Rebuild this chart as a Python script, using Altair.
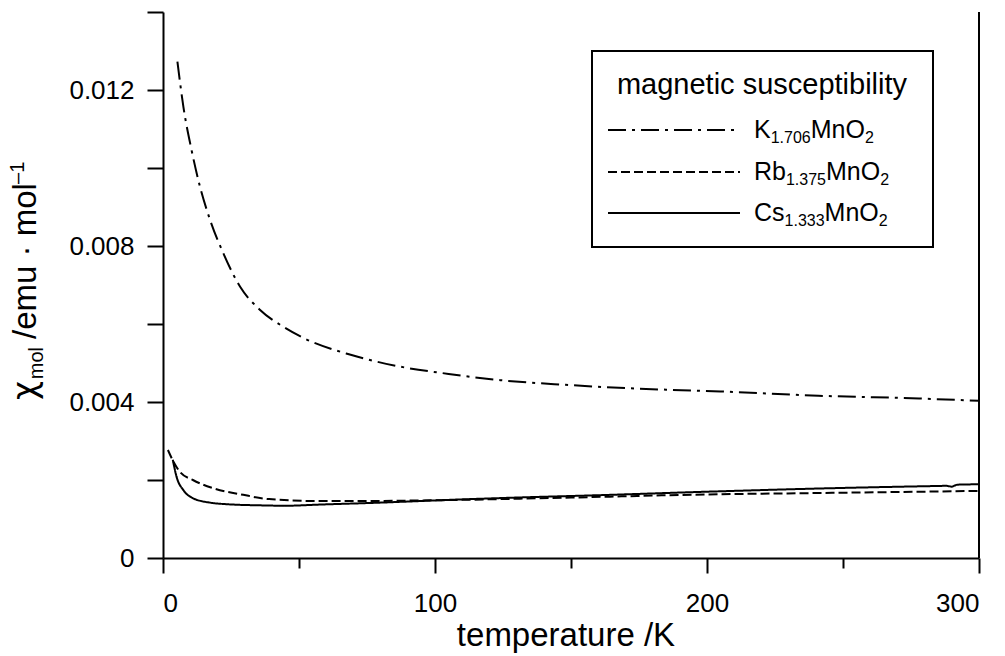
import altair as alt
import pandas as pd

# ---------------- data ----------------
SERIES = ["K", "Rb", "Cs"]

T_K = [5.3, 7.5, 10.5, 13.6, 17.3, 22.2, 28.3, 35.7, 44.2, 52, 69, 87, 105, 124, 148, 172, 205, 241, 278, 300]
chi_K = [0.01273, 0.01157, 0.01046, 0.00952, 0.00867, 0.00781, 0.00696, 0.00636, 0.00593, 0.00563,
         0.00521, 0.00491, 0.00472, 0.00456, 0.00444, 0.00435, 0.00427, 0.00416, 0.00409, 0.00403]

T_Rb = [1.8, 4, 6.2, 11, 18.5, 29.5, 39, 58, 69, 100, 150, 200, 246, 300]
chi_Rb = [0.00277, 0.00245, 0.00221, 0.00200, 0.00179, 0.00162, 0.00151, 0.00146, 0.00146,
          0.00148, 0.00155, 0.00163, 0.00167, 0.00172]

T_Cs = [3.6, 5.0, 7.5, 11.1, 17.3, 23.4, 35.7, 45, 57.7, 80, 105, 130, 160, 200, 246, 280, 288, 290, 292, 300]
chi_Cs = [0.00252, 0.00208, 0.00174, 0.00153, 0.00142, 0.00138, 0.00135, 0.00134, 0.00137, 0.00142,
          0.00149, 0.00155, 0.00161, 0.00170, 0.00179, 0.00184, 0.00185, 0.00183, 0.00188, 0.00189]

X_TICKS = [0, 50, 100, 150, 200, 250, 300]
Y_TICKS = [0, 0.002, 0.004, 0.006, 0.008, 0.010, 0.012, 0.014]

LEGEND_TITLE = "magnetic susceptibility"
LEGEND_LABELS = [("K", "1.706"), ("Rb", "1.375"), ("Cs", "1.333")]
X_TITLE = "temperature /K"

# ---------------- layout ----------------
FONT = "Liberation Sans"
W, H = 816, 546
LEFT, TOP = 163, 12


def rx(X):
    return X - LEFT


def ry(Y):
    return Y - TOP


# approximate Arial / Liberation Sans advance widths (em)
CW = {c: 0.556 for c in "0123456789"}
CW.update({".": 0.278, "K": 0.667, "M": 0.833, "n": 0.556, "O": 0.778, "R": 0.722, "b": 0.556,
           "C": 0.722, "s": 0.5, "m": 0.833, "o": 0.556, "l": 0.222, "/": 0.278, "e": 0.556,
           "u": 0.556, " ": 0.278, "\u00b7": 0.278, "\u2013": 0.556, "\u03c7": 0.6})


def tw(s, size):
    return sum(CW.get(c, 0.556) for c in s) * size


rows = []
for name, T, C in [("K", T_K, chi_K), ("Rb", T_Rb, chi_Rb), ("Cs", T_Cs, chi_Cs)]:
    for t, c in zip(T, C):
        rows.append({"series": name, "T": t, "chi": c})
df = pd.DataFrame(rows)

DASHES = [[18, 6, 3, 6], [9, 4], [1, 0]]

lines = alt.Chart(df).mark_line(color="black", strokeWidth=2, interpolate="monotone").encode(
    x=alt.X("T:Q", scale=alt.Scale(domain=[0, 300], nice=False, zero=False),
            axis=alt.Axis(values=X_TICKS, title=None,
                          labelExpr="datum.value % 100 == 0 ? format(datum.value, 'd') : ''",
                          tickSize={"condition": {"test": "datum.value % 100 == 0", "value": 15}, "value": 10},
                          labelPadding=17)),
    y=alt.Y("chi:Q", scale=alt.Scale(domain=[0, 0.014], nice=False),
            axis=alt.Axis(values=Y_TICKS, title=None, tickSize=16, labelPadding=13,
                          labelExpr="round(datum.value*1000) % 4 == 0 ? (datum.value == 0 ? '0' : format(datum.value, '.3f')) : ''")),
    strokeDash=alt.StrokeDash("series:N", scale=alt.Scale(domain=SERIES, range=DASHES), legend=None),
    detail="series:N",
    order="T:Q",
)

one = pd.DataFrame({"a": [0]})


def text(txt, X, Y, size, angle=0, align="left", font=FONT):
    return alt.Chart(one).mark_text(text=txt, font=font, fontSize=size, align=align,
                                    baseline="alphabetic", angle=angle, color="black").encode(
        x=alt.value(rx(X)), y=alt.value(ry(Y)))


def rule(X1, Y1, X2, Y2, dash=None, width=2):
    kw = dict(color="black", strokeWidth=width)
    if dash is not None:
        kw["strokeDash"] = dash
    return alt.Chart(one).mark_rule(**kw).encode(
        x=alt.value(rx(X1)), x2=alt.value(rx(X2)), y=alt.value(ry(Y1)), y2=alt.value(ry(Y2)))


layers = [lines]

# right frame line
layers.append(rule(979, TOP, 979, 558))

# legend box
layers.append(alt.Chart(one).mark_rect(fill="white", stroke="black", strokeWidth=2).encode(
    x=alt.value(rx(592)), x2=alt.value(rx(933)), y=alt.value(ry(51)), y2=alt.value(ry(247))))
layers.append(text(LEGEND_TITLE, 762, 94, 29, align="center"))

line_y = [130, 172, 213]
MAIN, SUB = 25, 16
for (el, sub), ly, dash in zip(LEGEND_LABELS, line_y, DASHES):
    layers.append(rule(608, ly, 740, ly, dash=dash))
    bx = 754
    base = ly + 8
    pieces = [(el, MAIN, 0), (sub, SUB, 5), ("MnO", MAIN, 0), ("2", SUB, 5)]
    for s, size, dy in pieces:
        layers.append(text(s, bx, base + dy, size))
        bx += tw(s, size)

# x-axis title
layers.append(text(X_TITLE, 566, 646, 33, align="center"))

# y-axis title, rotated, composed of pieces (reading upward)
YT, YS = 33, 20
ybase_x = 36
yy = 400
for s, size, dx, gap, fnt in [("\u03c7", YT, 0, 1, "DejaVu Sans"), ("mol", YS, 7, 8, FONT),
                              ("/emu \u00b7 mol", YT, 0, 1, FONT), ("\u20131", YS, -12, 0, FONT)]:
    layers.append(text(s, ybase_x + dx, yy, size, angle=270, font=fnt))
    yy -= tw(s, size) + gap

chart = alt.layer(*layers).properties(
    width=W, height=H,
    background="white",
    autosize=alt.AutoSizeParams(type="none"),
    padding={"left": LEFT, "top": TOP, "right": 1005 - LEFT - W, "bottom": 656 - TOP - H},
).configure_view(stroke=None).configure_axis(
    domainColor="black", domainWidth=2, tickColor="black", tickWidth=2, grid=False,
    labelFont=FONT, labelFontSize=26, labelColor="black",
)

chart.save("out.html", embed_options={"renderer": "svg", "actions": False})
